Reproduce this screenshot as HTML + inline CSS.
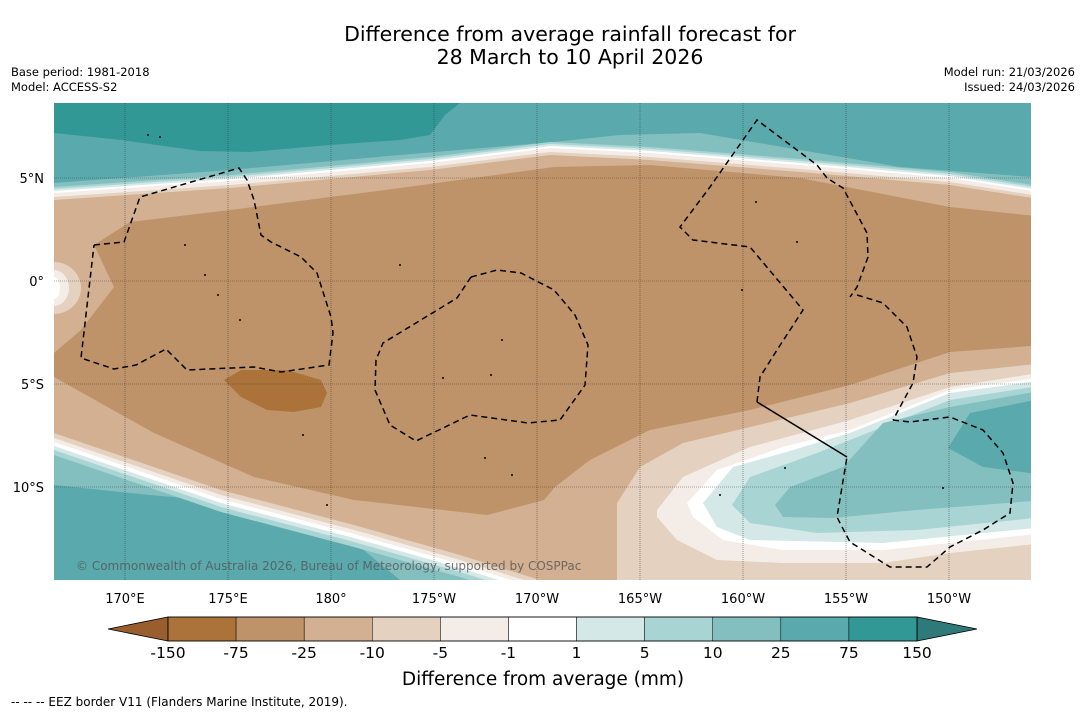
<!DOCTYPE html>
<html><head><meta charset="utf-8">
<style>
html,body{margin:0;padding:0;background:#fff;}
body{width:1085px;height:713px;overflow:hidden;font-family:"Liberation Sans","DejaVu Sans",sans-serif;}
svg text{font-family:"DejaVu Sans","Liberation Sans",sans-serif;}
</style></head>
<body>
<svg id="fig" width="1085" height="713" viewBox="0 0 1085 713" xmlns="http://www.w3.org/2000/svg">
  <text x="570" y="41" font-size="20.5" text-anchor="middle" fill="#000">Difference from average rainfall forecast for</text>
  <text x="570" y="64" font-size="20.5" text-anchor="middle" fill="#000">28 March to 10 April 2026</text>
  <text x="11" y="76" font-size="11.5" fill="#000">Base period: 1981-2018</text>
  <text x="11" y="91" font-size="11.5" fill="#000">Model: ACCESS-S2</text>
  <text x="1075" y="76" font-size="11.5" fill="#000" text-anchor="end">Model run: 21/03/2026</text>
  <text x="1075" y="91" font-size="11.5" fill="#000" text-anchor="end">Issued: 24/03/2026</text>
  <defs><clipPath id="mapclip"><rect x="54" y="103" width="977" height="477"/></clipPath></defs>
  <g id="map" clip-path="url(#mapclip)"></g>
  <g id="axes"></g>
  <g id="cbar"></g>
  <text x="543" y="685" font-size="18.5" text-anchor="middle" fill="#000">Difference from average (mm)</text>
  <text x="11" y="706" font-size="12" fill="#000">--  --  -- EEZ border V11 (Flanders Marine Institute, 2019).</text>
</svg>
<script>
const levelLabels = ["-150","-75","-25","-10","-5","-1","1","5","10","25","75","150"];
const levelColors = ["#ab7339","#bf936a","#d2b091","#e4d1bf","#f4ede7","#ffffff","#d3e8e7","#a8d5d3","#84bfbf","#5aaaad","#329896"];
const underColor = "#985e2e";
const overColor = "#2e7a78";
const lonTicks = ["170°E","175°E","180°","175°W","170°W","165°W","160°W","155°W","150°W"];
const lonValues = [170,175,180,185,190,195,200,205,210];
const latTicks = ["5°N","0°","5°S","10°S"];
const latValues = [5,0,-5,-10];

const NS="http://www.w3.org/2000/svg";
const map=document.getElementById('map'), axes=document.getElementById('axes'), cbar=document.getElementById('cbar');
const xLon = lon => 125 + (lon-170)*20.6;
const yLat = lat => 281 - lat*20.6;
function mk(tag, attrs, parent){const e=document.createElementNS(NS,tag);for(const k in attrs)e.setAttribute(k,attrs[k]);parent.appendChild(e);return e;}
function off(a,dy){return a.map(p=>[p[0],p[1]+dy]);}
function rev(a){return a.slice().reverse();}
function pts(a){return a.map(p=>p.join(',')).join(' ');}
function poly(a,fill,name){const e=mk('polygon',{points:pts(a),fill:fill},map);


return e;}
const C={c150:levelColors[0],c75:levelColors[1],c25:levelColors[2],c10:levelColors[3],c5:levelColors[4],w:levelColors[5],p1:levelColors[6],p5:levelColors[7],p10:levelColors[8],p25:levelColors[9],p75:levelColors[10]};

const bg=mk('rect',{x:54,y:103,width:977,height:477,fill:C.p25},map);


poly([[40,90],[470,90],[460,103],[445,115],[430,135],[400,140],[330,145],[250,152],[200,151],[121,140],[54,133],[40,133]],C.p75,'contour-top-75-150');

const T25=[[40,200],[54,200],[230,188],[430,170],[550,155],[650,160],[800,172],[950,185],[1045,200]];
const B25L=[[40,433],[54,433],[221,490],[354,525],[460,555],[540,580],[560,600]];
const R25=[[617,600],[617,503],[640,467],[683,443],[750,427],[850,403],[950,373],[1045,363]];
const TP10=[[40,183],[54,183],[230,170],[400,155],[554,142],[620,135],[700,133],[800,150],[900,167],[1045,178]];
const BP10=[[40,485],[54,485],[150,495],[230,502],[300,522],[360,547],[400,580],[420,620]];
const tailR=[[1045,620],[600,620]];
poly(TP10.concat(tailR,rev(BP10)),C.p10,'contour-10-25');
poly(off(T25,-13).concat(tailR,rev(off(B25L,22))),C.p5,'contour-5-10');
poly(off(T25,-11).concat(tailR,rev(off(B25L,17))),C.p1,'contour-1-5');
poly(off(T25,-9).concat(tailR,rev(off(B25L,13))),C.w,'contour-neutral');
poly(off(T25,-7).concat(tailR,rev(off(B25L,9))),C.c5,'contour-minus5-minus1');
poly(off(T25,-3).concat(tailR,rev(off(B25L,5))),C.c10,'contour-minus10-minus5');
poly(T25.concat(rev(R25),rev(B25L)),C.c25,'contour-minus25-minus10');
poly([[94,245],[130,222],[230,210],[400,188],[554,167],[650,165],[800,178],[950,207],[1045,217],[1045,345],[950,352],[850,385],[750,410],[650,430],[590,460],[555,487],[544,500],[487,515],[354,500],[254,477],[154,433],[54,377],[40,377],[40,353],[54,353],[81,330],[114,287]],C.c75,'contour-minus75-minus25');
poly([[224,380],[241,370],[287,370],[321,380],[327,393],[321,407],[294,412],[267,410],[241,397]],C.c150,'contour-minus150-minus75');
[[27,26,C.c10],[15,18,C.c5],[6,11,C.w]].forEach(b=>{const e=mk('ellipse',{cx:54,cy:288,rx:b[0],ry:b[1],fill:b[2]},map);

});
poly([[1045,372],[950,387],[850,420],[750,447],[683,477],[657,510],[657,517],[677,540],[717,560],[783,563],[883,563],[950,553],[1045,543]],C.c5,'se-contour-minus5');
poly([[1045,377],[950,390],[850,430],[783,447],[717,470],[687,503],[693,517],[723,540],[783,550],[883,550],[950,543],[1045,533]],C.w,'se-contour-neutral');
poly([[1045,380],[950,393],[850,433],[783,453],[733,467],[703,503],[717,527],[750,540],[883,543],[1045,527]],C.p1,'se-contour-1-5');
poly([[1045,385],[950,400],[850,440],[817,453],[750,477],[732,505],[750,523],[817,533],[917,530],[1045,517]],C.p5,'se-contour-5-10');
poly([[1045,390],[950,407],[883,423],[843,467],[790,487],[775,505],[783,517],[833,518],[917,510],[1045,500]],C.p10,'se-contour-10-25');
poly([[1045,398],[970,413],[948,448],[983,467],[1045,475]],C.p25,'se-contour-25-75');

function dash(a,name,solid){const e=mk('polyline',{points:pts(a),fill:'none',stroke:'#000','stroke-width':1.5,'stroke-dasharray':solid?'none':'6,4'},map);

}
dash([[94,245],[124,242],[140,197],[239,168],[247,180],[254,200],[261,235],[271,242],[301,257],[317,273],[331,317],[333,333],[329,365],[281,372],[254,367],[187,370],[166,349],[136,365],[114,369],[81,358],[94,245]],'eez-border-west');
dash([[471,277],[497,270],[521,273],[554,290],[575,315],[588,345],[585,385],[560,420],[528,423],[470,415],[416,441],[390,425],[375,390],[376,360],[383,343],[457,298],[471,277]],'eez-border-central');
dash([[757,402],[760,377],[777,350],[803,310],[750,247],[693,240],[680,227],[710,187],[757,120],[817,165],[827,178],[843,188],[867,233],[868,257],[857,287],[850,297]],'eez-border-east-north');
dash([[857,295],[883,303],[907,327],[917,357],[913,383],[893,420]],'eez-border-east-mid');
dash([[893,420],[910,422],[950,417],[983,430],[1003,453],[1013,483],[1010,513],[983,530],[950,547],[927,567],[890,567],[850,542],[840,523],[837,517],[847,457]],'eez-border-south-east');
dash([[757,402],[847,457]],'eez-boundary-solid',true);
[[148,135],[160,137],[185,245],[205,275],[218,295],[240,320],[400,265],[443,378],[502,340],[491,375],[485,458],[512,475],[742,290],[797,242],[756,202],[785,468],[720,495],[303,435],[327,505],[943,488]].forEach(p=>{const e=mk('circle',{cx:p[0],cy:p[1],r:1,fill:'#000'},map);

});
const cp=mk('text',{x:76,y:570,'font-size':12,fill:'#555','fill-opacity':0.8},map);
cp.textContent='© Commonwealth of Australia 2026, Bureau of Meteorology, supported by COSPPac';



lonValues.forEach((v,i)=>{const x=xLon(v);
const g=mk('line',{x1:x,y1:103,x2:x,y2:580,stroke:'#333','stroke-width':0.6,'stroke-dasharray':'1,1','stroke-opacity':0.8},axes);


const t=mk('text',{x:x,y:603,'font-size':13,'text-anchor':'middle',fill:'#000'},axes);t.textContent=lonTicks[i];

});
latValues.forEach((v,i)=>{const y=yLat(v);
const g=mk('line',{x1:54,y1:y,x2:1031,y2:y,stroke:'#333','stroke-width':0.6,'stroke-dasharray':'1,1','stroke-opacity':0.8},axes);


const t=mk('text',{x:44,y:y+5,'font-size':13,'text-anchor':'end',fill:'#000'},axes);t.textContent=latTicks[i];

});

const cx0=168,cx1=917,cy=617,ch=24,n=levelColors.length,bw=(cx1-cx0)/n;
const ut=mk('polygon',{points:`${cx0},${cy} ${cx0},${cy+ch} 108,${cy+ch/2}`,fill:underColor,stroke:'#000','stroke-width':0.8},cbar);


const ot=mk('polygon',{points:`${cx1},${cy} ${cx1},${cy+ch} 977,${cy+ch/2}`,fill:overColor,stroke:'#000','stroke-width':0.8},cbar);


levelColors.forEach((c,i)=>{const r=mk('rect',{x:cx0+i*bw,y:cy,width:bw,height:ch,fill:c,stroke:'#000','stroke-width':0.5},cbar);

});
mk('rect',{x:cx0,y:cy,width:cx1-cx0,height:ch,fill:'none',stroke:'#000','stroke-width':0.8},cbar);
levelLabels.forEach((l,i)=>{const t=mk('text',{x:cx0+i*bw,y:658,'font-size':15.5,'text-anchor':'middle',fill:'#000'},cbar);t.textContent=l;

});
</script>
</body></html>
